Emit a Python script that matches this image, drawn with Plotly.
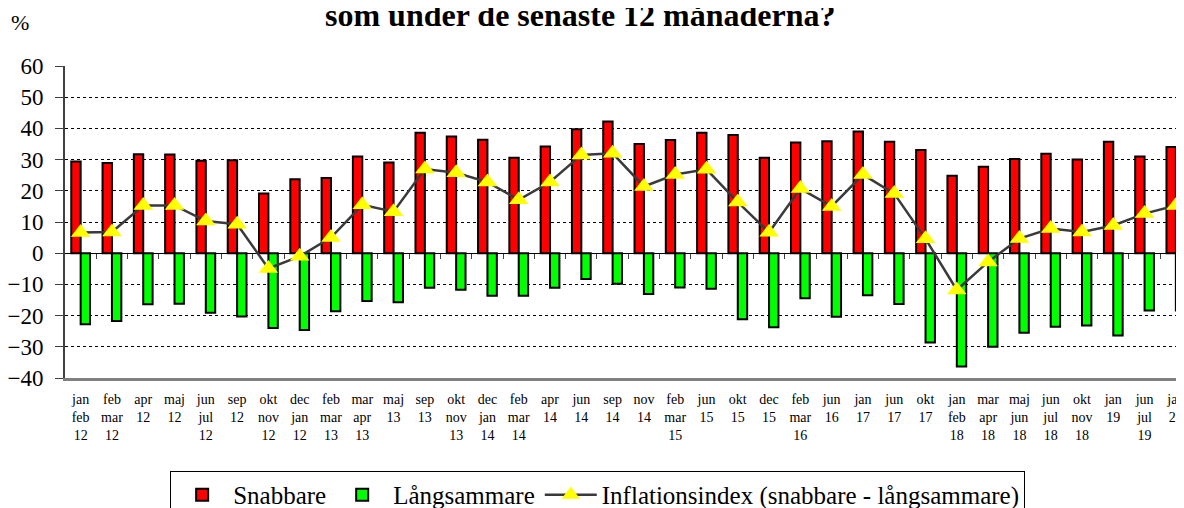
import plotly.graph_objects as go

categories = ["jan<br>feb<br>12", "feb<br>mar<br>12", "apr<br>12", "maj<br>12", "jun<br>jul<br>12",
              "sep<br>12", "okt<br>nov<br>12", "dec<br>jan<br>12", "feb<br>mar<br>13", "mar<br>apr<br>13",
              "maj<br>13", "sep<br>13", "okt<br>nov<br>13", "dec<br>jan<br>14", "feb<br>mar<br>14",
              "apr<br>14", "jun<br>14", "sep<br>14", "nov<br>14", "feb<br>mar<br>15", "jun<br>15",
              "okt<br>15", "dec<br>15", "feb<br>mar<br>16", "jun<br>16", "jan<br>17", "jun<br>17",
              "okt<br>17", "jan<br>feb<br>18", "mar<br>apr<br>18", "maj<br>jun<br>18", "jun<br>jul<br>18",
              "okt<br>nov<br>18", "jan<br>19", "jun<br>jul<br>19", "jan<br>20"]

snabbare = [29.4, 28.9, 31.7, 31.6, 29.6, 29.8, 19.1, 23.7, 24.1, 31.0, 29.1, 38.6, 37.4, 36.4,
            30.6, 34.2, 39.7, 42.2, 35.0, 36.3, 38.6, 37.9, 30.6, 35.5, 35.9, 39.0, 35.7, 33.1,
            24.8, 27.7, 30.2, 31.9, 30.0, 35.7, 31.0, 34.0]

langsammare = [-22.8, -21.7, -16.4, -16.2, -19.1, -20.3, -24.0, -24.6, -18.6, -15.3, -15.7, -11.1,
               -11.7, -13.6, -13.6, -11.1, -8.3, -9.8, -13.1, -11.0, -11.4, -21.2, -23.7, -14.4,
               -20.4, -13.5, -16.3, -28.6, -36.3, -30.0, -25.5, -23.6, -23.2, -26.4, -18.4, -18.4]

inflationsindex = [6.6, 6.8, 15.3, 15.3, 10.3, 9.3, -4.9, -1.0, 5.0, 15.5, 13.3, 27.0, 25.8, 22.8,
                   17.1, 22.8, 31.5, 32.0, 21.4, 25.2, 26.9, 16.4, 6.7, 20.7, 15.0, 25.2, 19.1, 4.6,
                   -11.8, -2.8, 4.7, 7.9, 6.8, 8.9, 12.7, 15.3]

FONT = "Liberation Serif"
n = len(categories)
xrange = [-0.5, 35.26]

fig = go.Figure()
fig.add_trace(go.Bar(x=categories, y=snabbare, name="Snabbare",
                     marker=dict(color="#FF0000", line=dict(color="black", width=2))))
fig.add_trace(go.Bar(x=categories, y=langsammare, name="Långsammare",
                     marker=dict(color="#00FF00", line=dict(color="black", width=2))))
fig.add_trace(go.Scatter(x=categories, y=inflationsindex, name="Inflationsindex (snabbare - långsammare)",
                         mode="lines+markers",
                         line=dict(color="#3a3a3a", width=2.5),
                         marker=dict(symbol="triangle-up", size=17, color="#FFFF00",
                                     line=dict(width=0))))
# helper axis for tick marks on the zero line
fig.add_trace(go.Scatter(x=[], y=[], xaxis="x2", showlegend=False, hoverinfo="skip"))

fig.update_layout(
    width=1184, height=508,
    margin=dict(l=57, r=8, t=58, b=138, autoexpand=False),
    paper_bgcolor="white", plot_bgcolor="white",
    barmode="group", bargap=0.4, bargroupgap=0,
    font=dict(family=FONT, color="black"),
    showlegend=True,
    legend=dict(orientation="h", x=0.476, xanchor="center", y=-0.298, yanchor="top",
                bordercolor="black", borderwidth=1, bgcolor="white",
                font=dict(family=FONT, size=25, color="black"),
                traceorder="normal", itemwidth=52),
    xaxis=dict(type="category", range=xrange, showgrid=False, zeroline=False, automargin=False,
               showline=True, linecolor="#808080", linewidth=3, mirror=False,
               ticks="", tickangle=0, ticklabelstandoff=6,
               tickfont=dict(family=FONT, size=14, color="black")),
    xaxis2=dict(overlaying="x", anchor="free", position=0.4, type="linear", range=xrange,
                tickmode="array", tickvals=[i + 0.5 for i in range(n)], automargin=False,
                ticks="outside", ticklen=5, tickwidth=1, tickcolor="#404040",
                showticklabels=False, showgrid=False, zeroline=False, showline=False),
    yaxis=dict(range=[-40, 60], dtick=10, tick0=0, automargin=False,
               showgrid=True, gridcolor="black", gridwidth=1, griddash="dot",
               zeroline=True, zerolinecolor="black", zerolinewidth=1,
               showline=True, linecolor="#404040", linewidth=2,
               ticks="outside", ticklen=8, tickcolor="#404040", tickwidth=1,
               ticklabelstandoff=7,
               tickfont=dict(family=FONT, size=23, color="black")),
    annotations=[
        dict(text="<b>som under de senaste 12 månaderna?</b>", xref="paper", yref="paper",
             x=0.4607, y=1.165, xanchor="center", yanchor="middle", showarrow=False,
             font=dict(family=FONT, size=32, color="black")),
        dict(text="%", xref="paper", yref="paper", x=-0.040, y=1.141,
             xanchor="center", yanchor="middle", showarrow=False,
             font=dict(family=FONT, size=22, color="black")),
    ],
    hovermode=False,
)

fig.write_html("out.html", config={"displayModeBar": False})
